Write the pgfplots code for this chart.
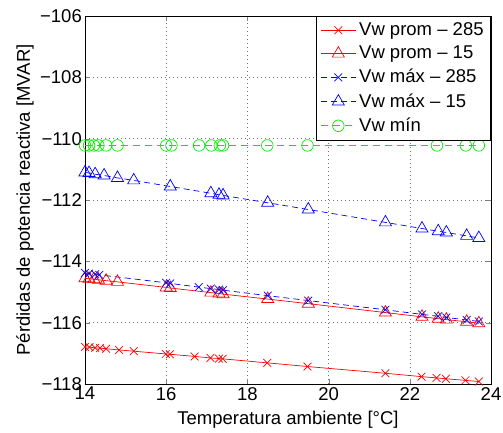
\documentclass[border=0pt]{standalone}
\usepackage{fontspec}
\setmainfont{Liberation Sans}
\usepackage{pgfplots}
\pgfplotsset{compat=1.18}
\definecolor{mred}{RGB}{255,0,0}
\definecolor{mblue}{RGB}{0,0,255}
\definecolor{mgreen}{RGB}{0,235,0}
\begin{document}
\fontsize{18.5}{22}\selectfont
\begin{tikzpicture}
\begin{axis}[
  scale only axis,
  width=406pt, height=368pt,
  xmin=14, xmax=24, ymin=-118, ymax=-106,
  xtick={14,16,18,20,22,24},
  ytick={-118,-116,-114,-112,-110,-108,-106},
  yticklabels={−118,−116,−114,−112,−110,−108,−106},
  /pgf/number format/assume math mode=true,
  tick align=inside,
  tick pos=both,
  major tick length=5pt,
  grid=major,
  grid style={dash pattern=on 1pt off 3pt, black!55, line width=0.6pt},
  axis line style={line width=0.8pt},
  xlabel={Temperatura ambiente [°C]},
  ylabel={Pérdidas de potencia reactiva [MVAR]},
  every axis x label/.style={at={(rel axis cs:0.5,0)}, anchor=center, yshift=-36pt},
  every axis y label/.style={at={(rel axis cs:0,0.5)}, xshift=-60pt, rotate=90, anchor=center},
  xticklabel style={inner sep=0pt, yshift=-3pt},
  yticklabel style={inner sep=0pt, xshift=-3pt},
  legend cell align=left,
  legend style={at={(rel axis cs:1,1)}, anchor=north east, draw=black, line width=0.8pt,
    inner xsep=4pt, inner ysep=5pt, row sep=5.8pt, font=\fontsize{18.5}{22}\selectfont,
    nodes={inner xsep=3pt, inner ysep=1pt}},
  legend image code/.code={\draw[mark repeat=2,mark phase=2,#1] plot coordinates {(0pt,0pt)(17.5pt,0pt)(35pt,0pt)};},
]
\coordinate (BL) at (rel axis cs:0,0);
\coordinate (TR) at (rel axis cs:1,1);
% Vw prom - 285
\addplot[mred, line width=0.7pt, mark=x, mark size=5.5pt, mark options={solid}] coordinates {
(14.0,-116.79)(14.11,-116.80)(14.25,-116.82)(14.37,-116.83)(14.52,-116.85)(14.84,-116.89)
(15.2,-116.93)(15.99,-117.02)(16.09,-117.03)(16.7,-117.10)(17.09,-117.15)(17.3,-117.17)
(17.39,-117.18)(18.49,-117.31)(19.48,-117.43)(21.4,-117.65)(22.29,-117.76)(22.66,-117.80)
(22.89,-117.83)(23.37,-117.88)(23.7,-117.92)};
\addlegendentry{Vw prom – 285}
% Vw prom - 15
\addplot[mred, line width=0.7pt, mark=triangle, mark size=7pt, mark options={solid}] coordinates {
(14.0,-114.55)(14.1,-114.57)(14.22,-114.58)(14.33,-114.60)(14.52,-114.63)(14.8,-114.67)
(16.0,-114.85)(16.1,-114.87)(17.1,-115.02)(17.3,-115.05)(17.4,-115.07)(18.5,-115.23)
(19.5,-115.38)(21.4,-115.67)(22.3,-115.81)(22.7,-115.87)(22.9,-115.90)(23.4,-115.97)(23.7,-116.02)};
\addlegendentry{Vw prom – 15}
% Vw max - 285
\addplot[mblue, line width=0.7pt, dash pattern=on 6pt off 4pt, mark=x, mark size=5.5pt, mark options={solid}] coordinates {
(14.0,-114.38)(14.1,-114.40)(14.25,-114.42)(14.35,-114.44)(16.0,-114.70)(16.1,-114.72)
(16.8,-114.84)(17.1,-114.89)(17.3,-114.92)(17.4,-114.94)(18.5,-115.12)(19.5,-115.28)
(21.4,-115.58)(22.3,-115.73)(22.7,-115.79)(22.9,-115.83)(23.4,-115.91)(23.7,-115.96)};
\addlegendentry{Vw máx – 285}
% Vw max - 15
\addplot[mblue, line width=0.7pt, dash pattern=on 6pt off 4pt, mark=triangle, mark size=7pt, mark options={solid}] coordinates {
(14.0,-111.10)(14.1,-111.12)(14.25,-111.16)(14.47,-111.20)(14.8,-111.28)(15.2,-111.36)
(16.1,-111.56)(17.1,-111.78)(17.3,-111.83)(17.4,-111.85)(18.5,-112.09)(19.5,-112.31)
(21.4,-112.73)(22.3,-112.93)(22.7,-113.02)(22.9,-113.06)(23.4,-113.17)(23.7,-113.24)};
\addlegendentry{Vw máx – 15}
% Vw min
\addplot[mgreen, line width=0.7pt, dash pattern=on 7pt off 5pt, mark=o, mark size=5.8pt, mark options={solid}] coordinates {
(14.0,-110.22)(14.1,-110.22)(14.22,-110.22)(14.33,-110.22)(14.52,-110.22)(14.8,-110.22)
(16.0,-110.22)(16.13,-110.22)(16.81,-110.22)(17.11,-110.22)(17.32,-110.22)(17.4,-110.22)
(18.49,-110.22)(19.48,-110.22)(22.67,-110.22)(23.38,-110.22)(23.7,-110.22)};
\addlegendentry{Vw mín}
\end{axis}
\pgfresetboundingbox
\path ([shift={(-85pt,-48pt)}]BL) rectangle ([shift={(12pt,16pt)}]TR);
\end{tikzpicture}
\end{document}
